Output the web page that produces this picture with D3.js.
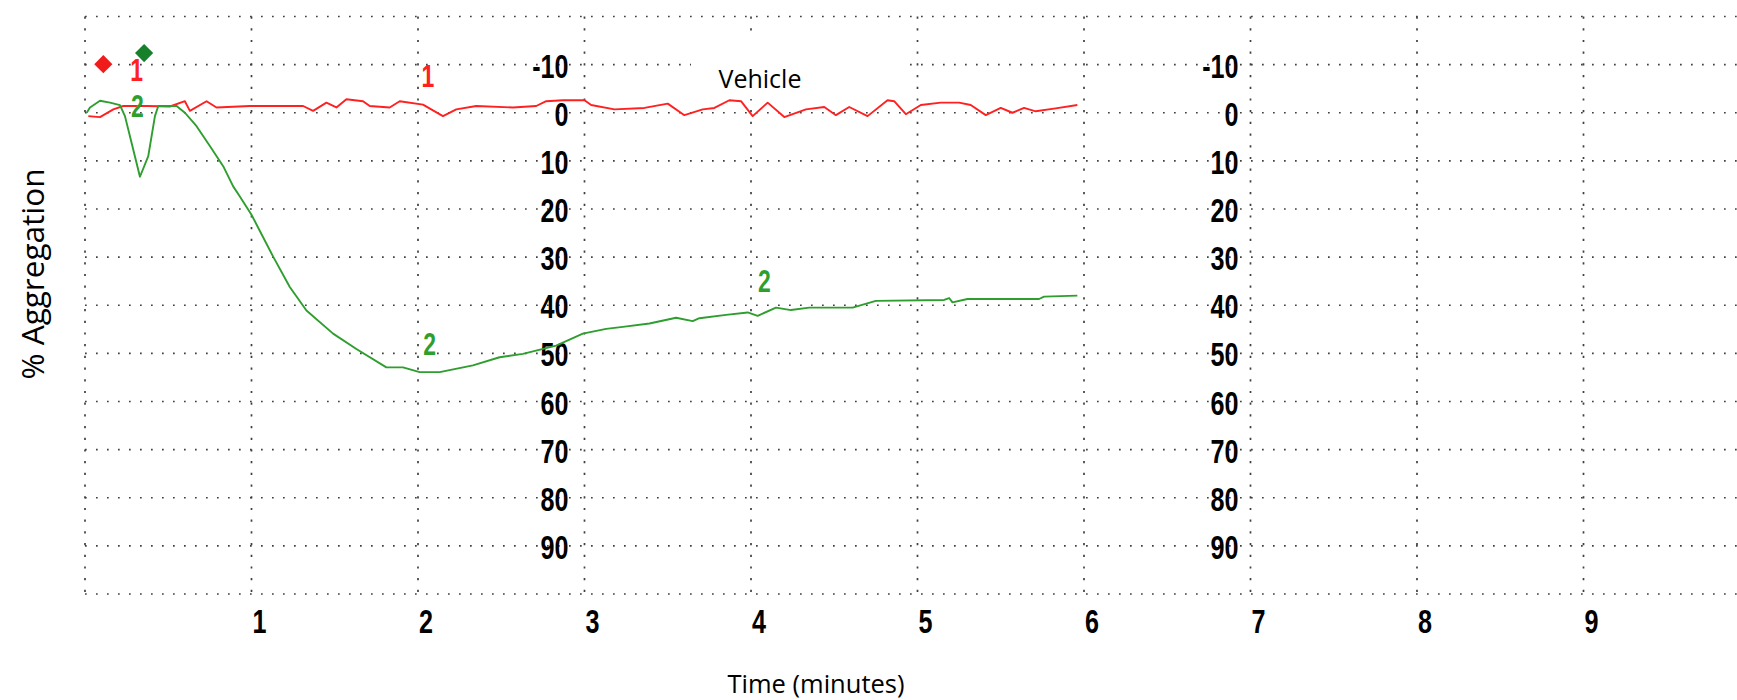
<!DOCTYPE html>
<html>
<head>
<meta charset="utf-8">
<script src="https://cdn.jsdelivr.net/npm/d3@7"></script>
<style>
  html, body { margin: 0; padding: 0; background: #fff; }
  svg { display: block; }
</style>
</head>
<body>
<svg id="chart" width="1737" height="700"></svg>
<script>
// ---------- data ----------
const xTickLabels = [1, 2, 3, 4, 5, 6, 7, 8, 9];
const yTickLabels = [-10, 0, 10, 20, 30, 40, 50, 60, 70, 80, 90];
const yGridValues = [-20, -10, 0, 10, 20, 30, 40, 50, 60, 70, 80, 90, 100];
const xGridValues = [0, 1, 2, 3, 4, 5, 6, 7, 8, 9];

// Trace 1 (red, Vehicle): time in minutes, % aggregation
const redTime  = [0.02, 0.09, 0.17, 0.23, 0.37, 0.51, 0.60, 0.63, 0.73, 0.79, 0.99, 1.31, 1.37, 1.45, 1.51, 1.57, 1.67, 1.71, 1.83, 1.89, 2.03, 2.15, 2.23, 2.35, 2.57, 2.71, 2.77, 2.87, 3.00, 3.04, 3.18, 3.36, 3.50, 3.60, 3.71, 3.78, 3.87, 3.94, 4.01, 4.10, 4.20, 4.33, 4.44, 4.51, 4.59, 4.70, 4.82, 4.86, 4.93, 5.02, 5.14, 5.25, 5.32, 5.41, 5.50, 5.57, 5.64, 5.71, 5.83, 5.96];
const redValue = [0.7, 0.9, -0.7, -1.4, -1.4, -1.3, -2.4, -0.4, -2.4, -1.1, -1.4, -1.4, -0.4, -2.1, -1.1, -2.8, -2.4, -1.4, -1.1, -2.4, -1.7, 0.7, -0.7, -1.4, -1.1, -1.4, -2.4, -2.6, -2.6, -1.6, -0.7, -1.0, -1.9, 0.5, -0.7, -1.0, -2.6, -2.4, 0.7, -2.1, 0.9, -0.7, -1.2, 0.5, -1.2, 0.7, -2.6, -2.4, 0.3, -1.6, -2.1, -2.1, -1.6, 0.5, -1.0, 0.0, -1.0, -0.3, -0.9, -1.6];

// Trace 2 (green)
const greenTime  = [0.01, 0.03, 0.09, 0.15, 0.21, 0.24, 0.28, 0.33, 0.38, 0.42, 0.44, 0.55, 0.60, 0.67, 0.75, 0.83, 0.89, 0.93, 1.00, 1.13, 1.23, 1.33, 1.49, 1.63, 1.81, 1.91, 2.01, 2.13, 2.33, 2.49, 2.63, 2.83, 2.99, 3.13, 3.23, 3.39, 3.55, 3.65, 3.69, 3.85, 3.98, 4.04, 4.15, 4.24, 4.35, 4.61, 4.75, 5.16, 5.19, 5.21, 5.30, 5.73, 5.76, 5.96];
const greenValue = [0.0, -1.1, -2.5, -2.1, -1.6, 0.7, 6.3, 13.3, 9.0, 0.7, -1.4, -1.4, 0.0, 2.8, 6.9, 11.1, 15.3, 17.4, 21.2, 29.9, 36.2, 41.1, 45.9, 49.1, 52.9, 52.9, 53.9, 53.9, 52.5, 50.8, 50.1, 48.4, 45.9, 44.9, 44.5, 43.8, 42.6, 43.3, 42.7, 42.0, 41.5, 42.2, 40.5, 41.0, 40.5, 40.5, 39.1, 38.9, 38.5, 39.4, 38.7, 38.7, 38.2, 38.0];

// Trace labels and start markers
const traceLabelText  = ["1", "2", "1", "2", "2"];
const traceLabelTrace = [1, 2, 1, 2, 2];
const traceLabelTime  = [0.31, 0.315, 2.06, 2.07, 4.08];
const traceLabelValue = [-6.6, 0.8, -5.3, 50.4, 37.3];
const markerTrace = [1, 2];
const markerTime  = [0.11, 0.355];
const markerValue = [-10.1, -12.4];

const yLabelColumns = [3, 7];   // the % scale is printed left of these minute lines

// ---------- drawing ----------
const W = 1737, H = 700;
const svg = d3.select("#chart");
const x = d3.scaleLinear().domain([0, 10]).range([85, 1750]);
const y = d3.scaleLinear().domain([-20, 100]).range([16.5, 594]);

const RED = "#ff2020", GREEN = "#2e9e2e";
const traceColor = t => t === 1 ? RED : GREEN;
const markerColor = t => t === 1 ? "#f01c1c" : "#17802a";

const grid = svg.append("g");
grid.selectAll("line.h").data(yGridValues).join("line")
  .attr("x1", x(0)).attr("x2", W)
  .attr("y1", d => y(d)).attr("y2", d => y(d))
  .attr("stroke", "#404040").attr("stroke-width", 1.7)
  .attr("stroke-dasharray", "1.7,9.3");
grid.selectAll("line.v").data(xGridValues).join("line")
  .attr("x1", d => x(d)).attr("x2", d => x(d))
  .attr("y1", y(-20)).attr("y2", y(100))
  .attr("stroke", "#404040").attr("stroke-width", 1.7)
  .attr("stroke-dasharray", "2.2,9.5");

// white box behind the "Vehicle" title
svg.append("rect")
  .attr("x", 691).attr("y", 37).attr("width", 211).attr("height", 62)
  .attr("fill", "#fff");
svg.append("text")
  .attr("x", 760).attr("y", 88)
  .attr("text-anchor", "middle")
  .attr("font-family", "'Open Sans', 'Noto Sans', sans-serif")
  .attr("font-size", 25).attr("fill", "#000")
  .text("Vehicle");

// % scale labels (two columns)
const labelFont = "'Liberation Sans', Arial, sans-serif";
yLabelColumns.forEach((col, i) => {
  const off = i === 0 ? -16 : -12;
  svg.append("g").selectAll("text").data(yTickLabels).join("text")
    .attr("transform", d => `translate(${x(col) + off},${y(d) + 13})scale(0.74,1)`)
    .attr("text-anchor", "end")
    .attr("font-family", labelFont).attr("font-weight", "bold")
    .attr("font-size", 34).attr("fill", "#000")
    .text(d => d);
});

// time labels
svg.append("g").selectAll("text").data(xTickLabels).join("text")
  .attr("transform", d => `translate(${x(d) + 8},${y(100) + 39})scale(0.74,1)`)
  .attr("text-anchor", "middle")
  .attr("font-family", labelFont).attr("font-weight", "bold")
  .attr("font-size", 34).attr("fill", "#000")
  .text(d => d);

// traces
const line = d3.line().x(d => x(d[0])).y(d => y(d[1])).curve(d3.curveLinear);
svg.append("path")
  .datum(redTime.map((t, i) => [t, redValue[i]]))
  .attr("d", line).attr("fill", "none")
  .attr("stroke", RED).attr("stroke-width", 1.9).attr("stroke-linejoin", "round");
svg.append("path")
  .datum(greenTime.map((t, i) => [t, greenValue[i]]))
  .attr("d", line).attr("fill", "none")
  .attr("stroke", GREEN).attr("stroke-width", 1.9).attr("stroke-linejoin", "round");

// trace labels
svg.append("g").selectAll("text").data(traceLabelText).join("text")
  .attr("transform", (d, i) => `translate(${x(traceLabelTime[i])},${y(traceLabelValue[i])})scale(0.74,1)`)
  .attr("text-anchor", "middle")
  .attr("font-family", labelFont).attr("font-weight", "bold")
  .attr("font-size", 31)
  .attr("fill", (d, i) => traceColor(traceLabelTrace[i]))
  .text(d => d);

// start markers (diamonds)
svg.append("g").selectAll("path").data(markerTrace).join("path")
  .attr("d", d3.symbol(d3.symbolSquare, 165))
  .attr("transform", (d, i) => `translate(${x(markerTime[i])},${y(markerValue[i])})rotate(45)`)
  .attr("fill", d => markerColor(d));

// axis titles
svg.append("text")
  .attr("x", 816).attr("y", 693)
  .attr("text-anchor", "middle")
  .attr("font-family", "'Open Sans', 'Noto Sans', sans-serif")
  .attr("font-size", 25.5).attr("fill", "#000")
  .text("Time (minutes)");
svg.append("text")
  .attr("transform", "translate(44,274)rotate(-90)")
  .attr("text-anchor", "middle")
  .attr("font-family", "'Open Sans', 'Noto Sans', sans-serif")
  .attr("font-size", 31.5).attr("fill", "#000")
  .text("% Aggregation");
</script>
</body>
</html>
